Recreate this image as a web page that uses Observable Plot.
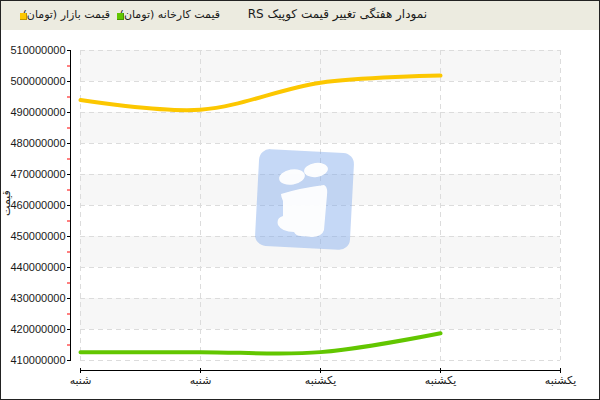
<!DOCTYPE html>
<html><head><meta charset="utf-8">
<script src="https://cdn.jsdelivr.net/npm/d3@7"></script>
<script src="https://cdn.jsdelivr.net/npm/@observablehq/plot@0.6"></script>
<style>
body{margin:0;background:#fff;}
#wrap{position:relative;width:600px;height:400px;overflow:hidden;font-family:"DejaVu Sans",sans-serif;background:#fff;}
#head{position:absolute;left:0;top:0;width:600px;height:30px;background:#ecebe0;}
.t{position:absolute;top:8px;font-size:11px;color:#1a1a1a;white-space:nowrap;direction:rtl;unicode-bidi:plaintext;line-height:14px;}
.t.title{font-size:12px;top:7px;}
.sw{position:absolute;top:13px;width:6px;height:6px;border-right:1px solid rgba(0,0,0,0.25);border-bottom:1px solid rgba(0,0,0,0.25);}
#chart{position:absolute;left:0;top:30px;}
#border{position:absolute;left:0;top:0;width:598px;height:398px;border:1px solid #222;pointer-events:none;}
#ylab{position:absolute;left:-6px;top:197px;width:26px;text-align:center;font-size:11px;line-height:12px;color:#1a1a1a;transform:rotate(-90deg);direction:rtl;}
#wm{position:absolute;left:0;top:0;pointer-events:none;}
</style></head>
<body>
<div id="wrap">
  <div id="head"></div>
  <div id="chart"></div>
  <svg id="wm" width="600" height="400">
    <g transform="rotate(3 305 200)" opacity="0.45">
      <rect x="257" y="151" width="95" height="97" rx="11" fill="#7fa9ea"/>
    </g>
    <g fill="#fff" opacity="0.95">
      <ellipse cx="292" cy="177" rx="13" ry="7.5" transform="rotate(-10 292 177)"/>
      <ellipse cx="316" cy="170" rx="12" ry="7" transform="rotate(-8 316 170)"/>
      <path d="M281,194 Q300,188 324,185 Q328,187 327,195 L324,230 Q322,237 312,237 L301,236 Q296,236 294,232 Q282,232 278,225 Q276,218 283,216 L283,201 Q281,197 281,194 Z"/>
    </g>
  </svg>
  <div id="ylab">قیمت</div>
  <div id="border"></div>
</div>
<script>
const chartTitle = "نمودار هفتگی تغییر قیمت کوپیک RS";
const dayLabels = ["شنبه", "شنبه", "یکشنبه", "یکشنبه", "یکشنبه"];
const dayIndex = [0, 1, 2, 3];
const marketPrice = [494000000, 490900000, 499600000, 501900000];
const factoryPrice = [412700000, 412700000, 412700000, 418800000];
const seriesNames = ["قیمت بازار (تومان)", "قیمت کارخانه (تومان)"];
const seriesColors = ["#fcc700", "#62c600"];
const yTicks = [410000000, 420000000, 430000000, 440000000, 450000000, 460000000, 470000000, 480000000, 490000000, 500000000, 510000000];
const yMinorTicks = [415000000, 425000000, 435000000, 445000000, 455000000, 465000000, 475000000, 485000000, 495000000, 505000000];

// header
const head = document.getElementById("head");
function addText(txt, right, cls) {
  const d = document.createElement("div");
  d.className = "t" + (cls ? " " + cls : ""); d.textContent = txt; d.style.right = right + "px";
  head.appendChild(d);
}
function addSwatch(color, left) {
  const d = document.createElement("div");
  d.className = "sw"; d.style.background = color; d.style.left = left + "px";
  head.appendChild(d);
}
addText(chartTitle, 173, "title");
addText(seriesNames[1], 380); addSwatch(seriesColors[1], 117);
addText(seriesNames[0], 490); addSwatch(seriesColors[0], 20);

const xTicks = dayLabels.map((_, i) => i);
const xMax = dayLabels.length - 1;
const bands = yTicks.slice(0, -1).map((t, i) => ({y1: t, y2: yTicks[i + 1], i})).filter(b => b.i % 2 === 1);
const market = dayIndex.map((d, i) => ({d, v: marketPrice[i]}));
const factory = dayIndex.map((d, i) => ({d, v: factoryPrice[i]}));

const plot = Plot.plot({
  width: 600, height: 370,
  marginLeft: 80, marginRight: 40, marginTop: 20, marginBottom: 40,
  style: {fontFamily: '"Liberation Sans","DejaVu Sans",sans-serif', fontSize: "11px", background: "transparent", color: "#111"},
  x: {domain: [0, xMax]},
  y: {domain: [yTicks[0], yTicks[yTicks.length - 1]]},
  marks: [
    Plot.rect(bands, {x1: () => 0, x2: () => xMax, y1: "y1", y2: "y2", fill: "#f7f7f7"}),
    Plot.gridY(yTicks, {stroke: "#dcdcdc", strokeOpacity: 1, strokeDasharray: "5,4"}),
    Plot.gridX(xTicks, {stroke: "#dcdcdc", strokeOpacity: 1, strokeDasharray: "5,4"}),
    Plot.line(factory, {x: "d", y: "v", stroke: seriesColors[1], strokeWidth: 4, curve: "catmull-rom"}),
    Plot.line(market, {x: "d", y: "v", stroke: seriesColors[0], strokeWidth: 4, curve: "catmull-rom"}),
    Plot.ruleX([0], {y1: () => yTicks[0], y2: () => yTicks[yTicks.length - 1], dx: -10, stroke: "#000"}),
    Plot.axisY(yMinorTicks, {tickFormat: () => "", tickSize: 3, dx: -10, stroke: "#ff0000", strokeOpacity: 1, label: null}),
    Plot.axisY(yTicks, {tickFormat: d => d3.format("d")(d), tickSize: 4, tickPadding: 2, dx: -9, stroke: "#000", fill: "#1a1a1a", label: null}),
    Plot.ruleY([yTicks[0]], {x1: () => 0, x2: () => xMax, dy: 10, stroke: "#000"}),
    Plot.axisX(xTicks, {tickFormat: i => dayLabels[i], tickSize: 5, tickPadding: 3, dy: 8, stroke: "#000", fill: "#1a1a1a", label: null})
  ]
});
document.getElementById("chart").appendChild(plot);
</script>
</body></html>
